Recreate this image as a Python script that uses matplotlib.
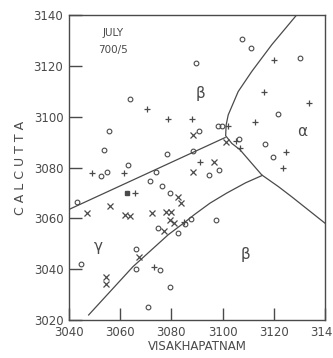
import numpy as np
import matplotlib
matplotlib.use("Agg")
import matplotlib.pyplot as plt

# observation points (Visakhapatnam, Calcutta) for the three symbol types
circle_x = [3063.7, 3055.5, 3053.7, 3078.4, 3063.0, 3052.6, 3055.0, 3074.1, 3089.7, 3090.8,
            3088.4, 3098.6, 3094.7, 3071.6, 3076.3, 3079.5, 3107.5, 3111.0, 3130.4, 3121.5,
            3098.1, 3099.9, 3106.5, 3116.6, 3119.6, 3043.2, 3074.8, 3082.6, 3085.5, 3087.8,
            3066.3, 3066.3, 3075.4, 3079.3, 3070.9, 3044.8, 3097.3]
circle_y = [3106.9, 3094.4, 3086.9, 3085.4, 3081.0, 3076.7, 3078.4, 3078.4, 3121.1, 3094.4,
            3086.5, 3079.0, 3077.1, 3074.7, 3072.8, 3070.0, 3130.6, 3127.0, 3123.0, 3101.0,
            3096.5, 3096.5, 3091.3, 3089.2, 3084.3, 3066.6, 3056.1, 3054.1, 3057.6, 3059.6,
            3048.0, 3040.0, 3039.7, 3032.9, 3025.2, 3042.0, 3059.4]

plus_x = [3070.6, 3078.7, 3088.0, 3049.0, 3061.5, 3091.2, 3120.1, 3116.3, 3133.7, 3112.7,
          3102.2, 3105.1, 3106.8, 3124.8, 3123.7, 3065.7, 3084.9, 3073.2]
plus_y = [3103.1, 3099.0, 3099.0, 3077.8, 3078.0, 3082.2, 3122.4, 3109.9, 3105.4, 3098.1,
          3096.5, 3090.5, 3087.6, 3086.3, 3079.7, 3070.1, 3058.5, 3040.7]

cross_x = [3088.4, 3088.4, 3096.6, 3082.6, 3083.6, 3101.2, 3047.2, 3055.9, 3062.0, 3063.9,
           3072.4, 3078.0, 3079.7, 3079.3, 3081.0, 3077.0, 3067.2, 3054.3, 3054.3]
cross_y = [3092.8, 3078.3, 3082.2, 3068.3, 3066.0, 3090.2, 3062.2, 3064.9, 3061.3, 3061.0,
           3062.2, 3062.6, 3062.6, 3059.4, 3058.3, 3055.2, 3044.7, 3037.0, 3034.2]

square_x = [3062.5]
square_y = [3070.1]

# boundary lines between regimes
left_bx = [3040.0, 3101.0]
left_by = [3063.5, 3091.8]
right_bx = [3128.9, 3119.2, 3111.4, 3106.1, 3102.2, 3101.4, 3101.2, 3103.6, 3106.8, 3115.3, 3121.8, 3127.0, 3140.0]
right_by = [3140.0, 3128.3, 3117.8, 3109.9, 3100.7, 3096.8, 3092.5, 3089.5, 3087.0, 3077.1, 3072.5, 3068.5, 3058.1]
low_bx = [3047.7, 3065.0, 3078.7, 3085.0, 3089.0, 3095.1, 3101.7, 3109.0, 3115.5]
low_by = [3022.0, 3041.0, 3053.5, 3058.3, 3061.5, 3066.0, 3070.0, 3074.0, 3076.9]

regions = ["β", "α", "γ", "β"]
region_x = [3091.5, 3131.0, 3051.3, 3108.8]
region_y = [3109.0, 3094.0, 3048.9, 3045.6]

ticks = [3040, 3060, 3080, 3100, 3120, 3140]
yticks = [3020, 3040, 3060, 3080, 3100, 3120, 3140]

ink = "#4a4a4a"

fig = plt.figure(figsize=(3.33, 3.58), dpi=100)
ax = fig.add_axes([0.207, 0.106, 0.769, 0.852])

ax.plot(left_bx, left_by, color=ink, lw=0.9)
ax.plot(right_bx, right_by, color=ink, lw=0.9)
ax.plot(low_bx, low_by, color=ink, lw=0.9)

ax.plot(circle_x, circle_y, "o", ms=3.4, mfc="none", mec=ink, mew=0.8, ls="none")
ax.plot(plus_x, plus_y, "+", ms=5, mec=ink, mew=0.9, ls="none")
ax.plot(cross_x, cross_y, "x", ms=4, mec=ink, mew=0.9, ls="none")
ax.plot(square_x, square_y, "s", ms=3.5, mfc=ink, mec=ink, ls="none")

for t, x, y in zip(regions, region_x, region_y):
    ax.text(x, y, t, fontsize=11, color=ink, ha="center", va="center")

ax.text(3057.2, 3133, "JULY", fontsize=7.5, color=ink, ha="center", va="center")
ax.text(3057.2, 3126.3, "700/5", fontsize=7.5, color=ink, ha="center", va="center")

ax.set_xlim(3040, 3140)
ax.set_ylim(3020, 3140)
ax.set_xticks(ticks)
ax.set_yticks(yticks)
ax.tick_params(direction="in", length=9, width=1.0, color=ink, labelcolor=ink, labelsize=8.5, pad=4)
for s in ax.spines.values():
    s.set_color(ink)
    s.set_linewidth(1.0)

ax.set_xlabel("VISAKHAPATNAM", fontsize=8.5, color=ink, labelpad=1)
ax.set_ylabel("C A L C U T T A", fontsize=9, color=ink, labelpad=5)

fig.savefig("out.png", dpi=100)
